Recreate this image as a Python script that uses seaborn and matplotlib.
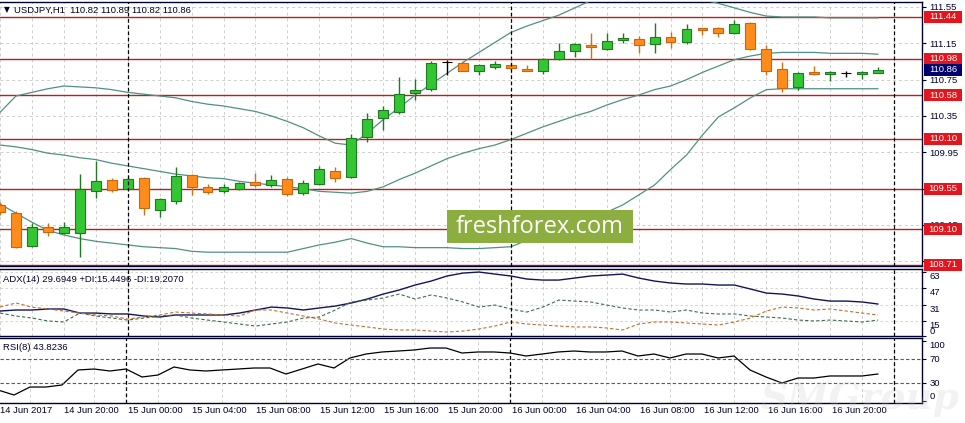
import numpy as np
import pandas as pd
import seaborn as sns
import matplotlib.pyplot as plt
import matplotlib.transforms as mtransforms
from matplotlib.patches import Rectangle

# USDJPY H1, 14 Jun 2017 16:00 .. 16 Jun 2017 23:00
opens = [109.37, 109.28, 108.92, 109.13, 109.06, 109.06, 109.52, 109.64, 109.55, 109.67,
         109.31, 109.41, 109.70, 109.57, 109.52, 109.55, 109.62, 109.59, 109.66, 109.50,
         109.60, 109.74, 109.68, 110.12, 110.33, 110.39, 110.60, 110.65, 110.94, 110.93,
         110.85, 110.89, 110.91, 110.87, 110.85, 110.98, 111.06, 111.13, 111.09, 111.19,
         111.20, 111.14, 111.22, 111.16, 111.32, 111.32, 111.26, 111.37, 111.09, 110.87,
         110.67, 110.83, 110.81, 110.82, 110.81, 110.82]
highs = [109.40, 109.30, 109.17, 109.17, 109.18, 109.71, 109.85, 109.67, 109.68, 109.68,
         109.45, 109.79, 109.71, 109.60, 109.60, 109.62, 109.72, 109.70, 109.68, 109.64,
         109.80, 109.79, 110.15, 110.38, 110.46, 110.78, 110.76, 110.96, 110.97, 110.95,
         110.92, 110.95, 110.93, 110.91, 110.99, 111.15, 111.15, 111.26, 111.26, 111.26,
         111.23, 111.37, 111.28, 111.36, 111.32, 111.33, 111.41, 111.38, 111.13, 110.94,
         110.83, 110.90, 110.85, 110.85, 110.85, 110.89]
lows = [109.26, 108.90, 108.91, 109.03, 109.05, 108.80, 109.45, 109.51, 109.54, 109.26,
        109.24, 109.38, 109.48, 109.49, 109.50, 109.54, 109.57, 109.57, 109.47, 109.48,
        109.59, 109.62, 109.67, 110.06, 110.20, 110.37, 110.53, 110.63, 110.80, 110.84,
        110.80, 110.87, 110.86, 110.84, 110.81, 110.97, 111.00, 110.98, 111.08, 111.15,
        111.04, 111.04, 111.10, 111.14, 111.24, 111.22, 111.25, 111.08, 110.80, 110.61,
        110.64, 110.80, 110.73, 110.78, 110.76, 110.82]
closes = [109.29, 108.91, 109.13, 109.07, 109.13, 109.55, 109.63, 109.53, 109.66, 109.34,
          109.44, 109.69, 109.57, 109.51, 109.57, 109.61, 109.59, 109.65, 109.49, 109.61,
          109.77, 109.67, 110.11, 110.32, 110.42, 110.59, 110.64, 110.93, 110.94, 110.85,
          110.91, 110.92, 110.88, 110.85, 110.98, 111.07, 111.14, 111.11, 111.18, 111.21,
          111.13, 111.22, 111.16, 111.31, 111.30, 111.26, 111.36, 111.09, 110.85, 110.66,
          110.82, 110.81, 110.83, 110.82, 110.83, 110.86]

bb_upper = [110.39, 110.57, 110.61, 110.65, 110.68, 110.67, 110.66, 110.64, 110.61, 110.59,
            110.57, 110.55, 110.51, 110.48, 110.46, 110.43, 110.40, 110.35, 110.29, 110.22,
            110.13, 110.05, 110.03, 110.16, 110.31, 110.44, 110.58, 110.70, 110.82, 110.94,
            111.05, 111.16, 111.27, 111.34, 111.40, 111.46, 111.54, 111.62, 111.67, 111.70,
            111.72, 111.72, 111.70, 111.67, 111.63, 111.59, 111.54, 111.49, 111.45, 111.44,
            111.44, 111.44, 111.43, 111.43, 111.43, 111.43]
bb_middle = [110.03, 110.01, 109.98, 109.94, 109.92, 109.89, 109.87, 109.83, 109.80, 109.77,
             109.74, 109.71, 109.69, 109.67, 109.66, 109.63, 109.61, 109.59, 109.57, 109.55,
             109.52, 109.51, 109.50, 109.52, 109.57, 109.65, 109.72, 109.80, 109.88, 109.94,
             109.99, 110.03, 110.09, 110.16, 110.23, 110.29, 110.35, 110.40, 110.47, 110.53,
             110.58, 110.64, 110.68, 110.75, 110.83, 110.90, 110.97, 111.01, 111.04, 111.05,
             111.05, 111.05, 111.04, 111.04, 111.04, 111.03]
bb_lower = [109.38, 109.28, 109.18, 109.09, 109.04, 109.00, 108.97, 108.95, 108.93, 108.91,
            108.90, 108.89, 108.86, 108.85, 108.85, 108.85, 108.85, 108.85, 108.85, 108.89,
            108.93, 108.96, 109.00, 108.95, 108.91, 108.91, 108.90, 108.90, 108.90, 108.89,
            108.89, 108.90, 108.91, 108.98, 109.04, 109.10, 109.16, 109.23, 109.29, 109.37,
            109.48, 109.59, 109.76, 109.92, 110.14, 110.34, 110.44, 110.55, 110.64, 110.65,
            110.65, 110.65, 110.65, 110.65, 110.65, 110.65]

adx = [24.6, 25.6, 25.6, 26.6, 26.6, 22.6, 22.6, 21.7, 21.7, 19.7,
       18.7, 20.7, 20.7, 20.7, 20.7, 22.6, 25.6, 28.5, 27.6, 25.6,
       27.6, 29.5, 32.5, 36.4, 41.3, 45.3, 50.2, 54.1, 59.1, 62.0,
       63.0, 61.0, 59.1, 56.1, 55.1, 55.1, 57.1, 59.1, 60.0, 61.0,
       57.1, 54.1, 52.2, 51.2, 51.2, 50.2, 50.2, 46.3, 42.3, 41.3,
       39.4, 36.4, 34.4, 34.4, 33.5, 31.5]
plus_di = [22.6, 19.7, 17.7, 14.8, 13.8, 22.6, 19.7, 17.7, 15.7, 17.7,
           19.7, 20.7, 17.7, 15.7, 13.8, 11.8, 9.8, 11.8, 13.8, 17.7,
           18.7, 25.6, 33.5, 35.4, 37.4, 41.3, 36.4, 40.4, 37.4, 33.5,
           28.5, 30.5, 26.6, 23.6, 28.5, 35.4, 34.4, 33.5, 30.5, 27.6,
           25.6, 25.6, 23.6, 25.6, 22.6, 21.7, 21.7, 19.7, 18.7, 17.7,
           15.7, 14.8, 15.7, 14.8, 13.8, 15.7]
minus_di = [28.5, 32.5, 28.5, 26.6, 24.6, 22.6, 20.7, 19.7, 16.7, 18.7,
            20.7, 23.6, 22.6, 21.7, 20.7, 19.7, 25.6, 25.6, 22.6, 19.7,
            16.7, 12.8, 10.8, 8.9, 6.9, 5.9, 5.9, 4.9, 3.9, 4.9,
            6.9, 9.8, 13.8, 11.8, 10.8, 9.8, 8.9, 8.9, 7.9, 5.9,
            11.8, 13.8, 13.8, 12.8, 11.8, 10.8, 13.8, 17.7, 24.6, 28.5,
            27.6, 25.6, 26.6, 24.6, 22.6, 20.7]
rsi = [18.3, 10.0, 23.3, 23.3, 26.7, 51.7, 53.3, 50.0, 53.3, 40.0,
       43.3, 56.7, 51.7, 50.0, 51.7, 53.3, 55.0, 55.0, 45.0, 53.3,
       61.7, 55.0, 71.7, 78.3, 81.7, 83.3, 85.0, 88.3, 88.3, 80.0,
       81.7, 81.7, 80.0, 75.0, 78.3, 81.7, 83.3, 81.7, 81.7, 83.3,
       75.0, 78.3, 71.7, 78.3, 78.3, 71.7, 75.0, 51.7, 40.0, 30.0,
       38.3, 38.3, 41.7, 41.7, 41.7, 45.0]

levels = [111.44, 110.98, 110.58, 110.10, 109.55, 109.10, 108.71]
price_ticks = [108.75, 109.15, 109.55, 109.95, 110.35, 110.75, 111.15, 111.55]
last_price = 110.86
day_starts = ["2017-06-15 00:00", "2017-06-16 00:00", "2017-06-17 00:00"]

times = pd.date_range("2017-06-14 16:00", periods=len(opens), freq="h")
df = pd.DataFrame({"open": opens, "high": highs, "low": lows, "close": closes,
                   "upper": bb_upper, "middle": bb_middle, "lower": bb_lower,
                   "adx": adx, "pdi": plus_di, "mdi": minus_di, "rsi": rsi})
df["bar"] = np.arange(len(df))
day_bars = [(pd.Timestamp(d) - times[0]) / pd.Timedelta("1h") for d in day_starts]

sns.set_style("white")
plt.rcParams["font.family"] = ["Liberation Sans", "DejaVu Sans"]
FS = 6.8
INK = "#00002e"
GRID = "#cfcfcf"
BB = "#4f9183"
LINE_RED = "#c41a1a"
BOX_RED = "#e3161d"

W, H = 965, 423


def px_box(x0, y0, x1, y1):
    return [x0 / W, 1 - y1 / H, (x1 - x0) / W, (y1 - y0) / H]


fig = plt.figure(figsize=(9.65, 4.23), dpi=100)
ax = fig.add_axes(px_box(0, 2, 922, 266))
ax_adx = fig.add_axes(px_box(0, 269, 922, 336))
ax_rsi = fig.add_axes(px_box(0, 338, 922, 403))

xlim = (0.125, 57.75)
for a in (ax, ax_adx, ax_rsi):
    a.set_xlim(*xlim)
    a.set_xticks(np.arange(0, 58, 2), minor=True)
    a.grid(True, which="minor", axis="x", color=GRID, lw=0.7, ls=(0, (3, 3)))
    a.set_xticks([])
    for s in a.spines.values():
        s.set_color(INK)
        s.set_linewidth(1.0)
    a.spines["left"].set_visible(False)
    a.yaxis.tick_right()
    a.tick_params(axis="y", labelsize=FS, labelcolor=INK, color=INK, length=3,
                  width=0.8, pad=2.5, direction="out")
    a.tick_params(axis="x", which="minor", length=0)
    for d in day_bars:
        a.axvline(d, color="black", lw=0.9, ls=(0, (3, 2)), zorder=6)

# ---- price panel
ax.set_ylim(108.698, 111.605)
ax.set_yticks(price_ticks)
ax.set_yticklabels([f"{t:.2f}" for t in price_ticks])
ax.grid(True, axis="y", color=GRID, lw=0.7, ls=(0, (3, 3)))

for lv in levels:
    ax.axhline(lv, color=LINE_RED, lw=1.0, zorder=2)

for col in ["upper", "middle", "lower"]:
    sns.lineplot(data=df, x="bar", y=col, ax=ax, color=BB, lw=0.9, zorder=3)

up = df["close"] > df["open"]
down = df["close"] < df["open"]
body_c = np.where(up, "#33c633", np.where(down, "#ff8c1a", "black"))
edge_c = np.where(up, "#1e7a1e", np.where(down, "#c9650c", "black"))
wick_c = np.where(up, "#1e7a1e", np.where(down, "#d0730f", "black"))
heights = (df["close"] - df["open"]).where(up | down, 0.003)
ax.vlines(df["bar"], df["low"], df["high"], colors=wick_c, lw=1.0, zorder=4)
ax.bar(df["bar"], heights, bottom=df["open"], width=0.62, color=body_c,
       edgecolor=edge_c, linewidth=0.8, zorder=5)

ax.set_xlabel("")
ax.set_ylabel("")
ax.set_xticks([])

trans = mtransforms.blended_transform_factory(ax.transAxes, ax.transData)
ppu = 90.8  # pixels per price unit


def price_box(val, color):
    ax.add_patch(Rectangle((924 / 922, val - 6 / ppu), 38 / 922, 12 / ppu,
                           transform=trans, facecolor=color, edgecolor="none",
                           clip_on=False, zorder=10))
    ax.text(943 / 922, val, f"{val:.2f}", transform=trans, ha="center",
            va="center", color="white", fontsize=FS, clip_on=False, zorder=11)


for lv in levels:
    price_box(lv, BOX_RED)
price_box(last_price, "#00006e")

ax.text(4 / 922, 0.97, "\u25bc", transform=ax.transAxes, fontsize=5.5,
        color=INK, va="center", ha="left", family=["DejaVu Sans"])
ax.text(14 / 922, 0.97, "USDJPY,H1  110.82 110.89 110.82 110.86",
        transform=ax.transAxes, fontsize=FS, color=INK, va="center", ha="left")

# ---- ADX panel
sns.lineplot(data=df, x="bar", y="adx", ax=ax_adx, color="#14145a", lw=1.0)
sns.lineplot(data=df, x="bar", y="pdi", ax=ax_adx, color="#3d6e4c", lw=0.8,
             ls=(0, (3, 2)))
sns.lineplot(data=df, x="bar", y="mdi", ax=ax_adx, color="#c2702e", lw=0.8,
             ls=(0, (3, 2)))
ax_adx.set_ylim(0, 66)
ax_adx.set_yticks([0, 15, 31, 47, 63])
ax_adx.set_yticklabels(["0", "15", "31", "47", "63"])
for lbl in ax_adx.get_yticklabels():
    lbl.set_va("bottom" if lbl.get_text() == "0" else "top")
ax_adx.grid(True, axis="y", color=GRID, lw=0.6, ls=(0, (3, 3)))
ax_adx.set_xlabel("")
ax_adx.set_ylabel("")
ax_adx.set_xticks([])
ax_adx.text(3 / 922, 0.85, "ADX(14) 29.6949 +DI:15.4496 -DI:19.2070",
            transform=ax_adx.transAxes, fontsize=FS, color=INK, va="center")

# ---- RSI panel
sns.lineplot(data=df, x="bar", y="rsi", ax=ax_rsi, color="black", lw=0.9)
for lv in (70, 30):
    ax_rsi.axhline(lv, color="#a33a3a", lw=0.8, ls=(0, (3, 2)))
ax_rsi.set_ylim(-3.33, 105)
ax_rsi.set_yticks([0, 30, 70, 100])
ax_rsi.set_yticklabels(["0", "30", "70", "100"])
for lbl in ax_rsi.get_yticklabels():
    t = lbl.get_text()
    lbl.set_va("top" if t == "100" else ("bottom" if t == "0" else "center"))
ax_rsi.set_xlabel("")
ax_rsi.set_ylabel("")
ax_rsi.text(3 / 922, 0.86, "RSI(8) 43.8236", transform=ax_rsi.transAxes,
            fontsize=FS, color=INK, va="center")

# time axis: ticks every 4 bars, label starts right of the tick
tick_bars = list(range(0, len(df), 4))
ax_rsi.set_xticks(tick_bars)
ax_rsi.set_xlim(*xlim)
ax_rsi.tick_params(axis="x", which="major", length=4, width=0.8, color=INK,
                   labelbottom=False, direction="out")
xtrans = mtransforms.blended_transform_factory(ax_rsi.transData, ax_rsi.transAxes)
for b in tick_bars:
    lab = "14 Jun 2017" if b == 0 else times[b].strftime("%d %b %H:%M")
    ax_rsi.text(b + 0.14, -3 / 65, lab, transform=xtrans, ha="left", va="top",
                fontsize=FS, color=INK, clip_on=False)

# watermarks
fig.patches.append(Rectangle((447 / W, 1 - 243 / H), 186 / W, 33 / H,
                             transform=fig.transFigure, facecolor="#8cad3f",
                             edgecolor="none", zorder=5))
fig.text(540 / W, 1 - 227 / H, "freshforex.com", ha="center", va="center",
         fontsize=17, color="white", family=["Open Sans", "DejaVu Sans"], zorder=6)
fig.text(860 / W, 1 - 398 / H, "SMGroup", ha="center", va="center", fontsize=27,
         color="#c8c8c8", alpha=0.22, style="italic", weight="bold",
         family=["DejaVu Serif"], zorder=6)

fig.savefig("out.png", dpi=100)
